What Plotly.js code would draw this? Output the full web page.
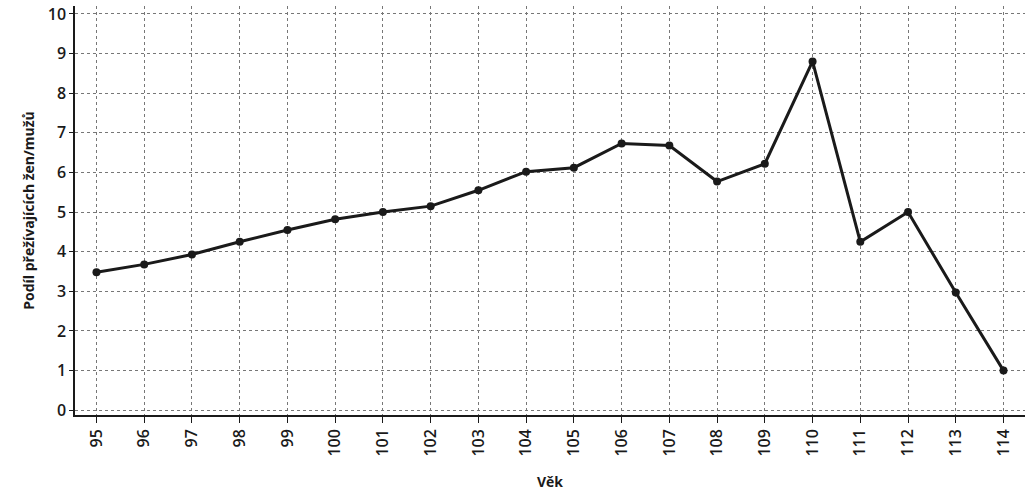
<!DOCTYPE html>
<html><head><meta charset="utf-8">
<script src="https://cdn.plot.ly/plotly-3.0.1.min.js"></script>
<style>body{margin:0}#c{width:1033px;height:493px}</style>
</head><body><div id="c"></div>
<script>
const ages = [95,96,97,98,99,100,101,102,103,104,105,106,107,108,109,110,111,112,113,114];
const ratio = [3.48,3.68,3.93,4.25,4.55,4.82,5.0,5.15,5.55,6.02,6.12,6.73,6.68,5.77,6.22,8.8,4.25,5.0,2.97,1.0];

Plotly.newPlot("c", [{
  x: ages, y: ratio, mode: "lines+markers", type: "scatter",
  line: {color: "#1a1a1a", width: 3}, marker: {color: "#1a1a1a", size: 8}
}], {
  width: 1033, height: 493,
  margin: {l: 75, r: 8, t: 6, b: 78},
  paper_bgcolor: "#fff", plot_bgcolor: "#fff",
  font: {family: "Open Sans", size: 15, color: "#1a1a1a"},
  showlegend: false,
  xaxis: {
    range: [94.55, 114.45], tickvals: ages, ticktext: ages.map(String), tickangle: -90,
    tickfont: {size: 16, weight: 600},
    showgrid: true, gridcolor: "#777", griddash: "dot", gridwidth: 0.8,
    showline: true, linecolor: "#1a1a1a", linewidth: 1.5,
    ticks: "outside", ticklen: 6, tickcolor: "#1a1a1a", zeroline: false,
    title: {text: "Věk", font: {size: 14, weight: "bold"}, standoff: 22}
  },
  yaxis: {
    range: [-0.12, 10.2], tickvals: [0,1,2,3,4,5,6,7,8,9,10],
    tickfont: {size: 16, weight: 600},
    showgrid: true, gridcolor: "#777", griddash: "dot", gridwidth: 0.8,
    showline: true, linecolor: "#1a1a1a", linewidth: 1.5,
    ticks: "outside", ticklen: 4, tickcolor: "#1a1a1a", zeroline: false,
    title: {text: "Podíl přežívajících žen/mužů", font: {size: 14, weight: "bold"}, standoff: 10}
  }
}, {displayModeBar: false});
</script></body></html>
